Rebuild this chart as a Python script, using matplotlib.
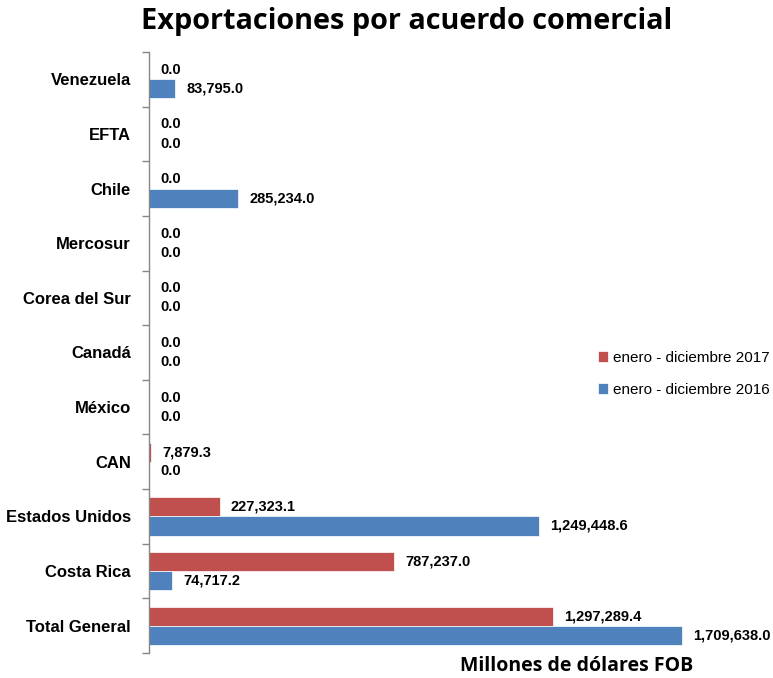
import matplotlib
matplotlib.use("Agg")
import matplotlib.pyplot as plt
import numpy as np

font = 'Liberation Sans'

categories = ["Total General", "Costa Rica", "Estados Unidos", "CAN", "México", "Canadá",
              "Corea del Sur", "Mercosur", "Chile", "EFTA", "Venezuela"]
v2017 = [1297289.4, 787237.0, 227323.1, 7879.3, 0.0, 0.0, 0.0, 0.0, 0.0, 0.0, 0.0]
v2016 = [1709638.0, 74717.2, 1249448.6, 0.0, 0.0, 0.0, 0.0, 0.0, 285234.0, 0.0, 83795.0]
series_names = ["enero - diciembre 2017", "enero - diciembre 2016"]

red = "#C0504D"
blue = "#4F81BD"

fig = plt.figure(figsize=(7.73, 6.78), dpi=100)
ax = fig.add_axes([149/773, 1-653/678, (760-149)/773, 601/678])

y = np.arange(len(categories))
h = 0.35
b1 = ax.barh(y + h/2, v2017, height=h, color=red, edgecolor="white", linewidth=0.5, label=series_names[0])
b2 = ax.barh(y - h/2, v2016, height=h, color=blue, edgecolor="white", linewidth=0.5, label=series_names[1])

ax.set_xlim(0, 611/3.118e-4)
ax.set_ylim(-0.5, len(categories) - 0.5)

for bars, vals in ((b1, v2017), (b2, v2016)):
    for bar, v in zip(bars, vals):
        ax.annotate(f"{v:,.1f}", (v, bar.get_y() + bar.get_height()/2),
                    xytext=(8, 0), textcoords="offset points", ha="left", va="center",
                    fontsize=10.5, fontweight="bold", family=font, color="#000000")

ax.set_yticks(y)
ax.set_yticklabels(categories, fontsize=12, fontweight="bold", family=font)
ax.tick_params(axis="y", which="major", length=0, pad=13)
ax.set_yticks(np.arange(-0.5, len(categories), 1), minor=True)
ax.tick_params(axis="y", which="minor", length=5, color="#868686", width=1)
ax.set_xticks([])
for s in ("top", "right", "bottom"):
    ax.spines[s].set_visible(False)
ax.spines["left"].set_color("#868686")
ax.spines["left"].set_linewidth(1)

fig.text(407/773, 1-22/678, "Exportaciones por acuerdo comercial", ha="center", va="center",
         fontsize=20.8, fontweight="bold", family="Open Sans")
fig.text(577/773, 1-666/678, "Millones de dólares FOB", ha="center", va="center",
         fontsize=14, fontweight="bold", family="Open Sans")

leg = ax.legend(loc="upper left", bbox_to_anchor=(584/773, 1-337/678), bbox_transform=fig.transFigure,
                frameon=False, prop={"family": font, "size": 11}, handlelength=0.7, handleheight=0.7,
                handletextpad=0.3, labelspacing=1.2)

fig.savefig("out.png", dpi=100)
